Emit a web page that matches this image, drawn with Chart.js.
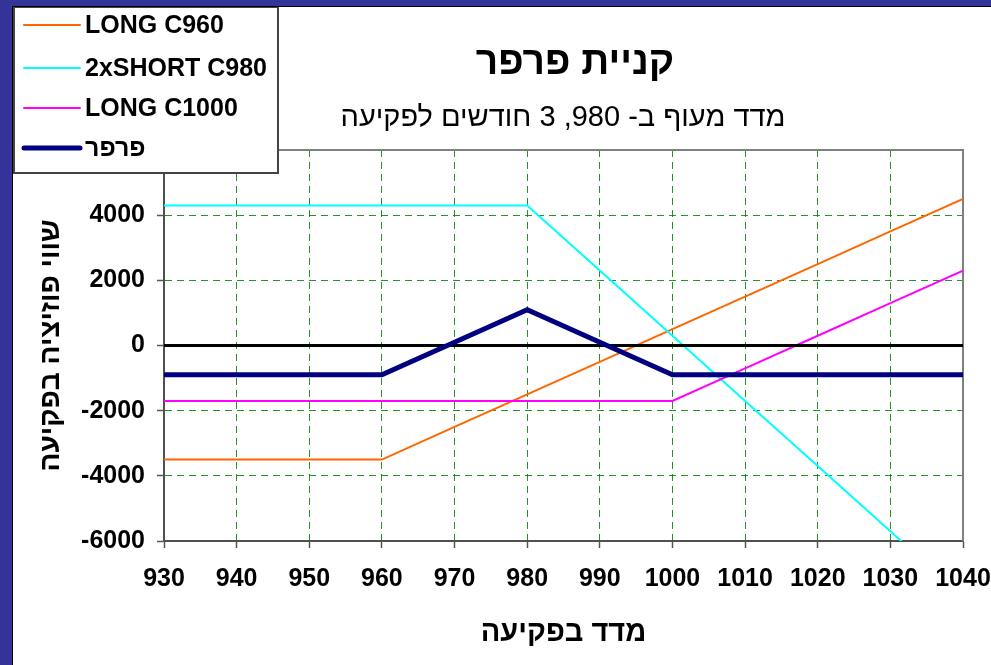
<!DOCTYPE html>
<html>
<head>
<meta charset="utf-8">
<title>קניית פרפר</title>
<script src="https://cdn.jsdelivr.net/npm/chart.js@4.4.1/dist/chart.umd.min.js"></script>
<style>
	html, body {
		margin: 0;
		padding: 0;
		width: 991px;
		height: 665px;
		overflow: hidden;
		background: #333399;
	}
	#panel {
		position: absolute;
		left: 12px;
		top: 6px;
		width: 978px;
		height: 658px;
		background: #fff;
		border-left: 1px solid #000;
		border-top: 1px solid #000;
	}
	#chart {
		display: block;
	}
</style>
</head>
<body>
<div id="panel"><canvas id="chart" width="978" height="658"></canvas></div>
<script>
// strike grid (index level at expiry)
var strikes = [930, 940, 950, 960, 970, 980, 990, 1000, 1010, 1020, 1030, 1040];

// position value at expiry for each leg
var longC960 = [-3500, -3500, -3500, -3500, -2500, -1500, -500, 500, 1500, 2500, 3500, 4500];
var shortC980x2 = [4300, 4300, 4300, 4300, 4300, 4300, 2300, 300, -1700, -3700, -5700, -7700];
var longC1000 = [-1700, -1700, -1700, -1700, -1700, -1700, -1700, -1700, -700, 300, 1300, 2300];
var butterfly = [-900, -900, -900, -900, 100, 1100, 100, -900, -900, -900, -900, -900];

// horizontal zero line
var zeroX = [930, 1040];
var zeroY = [0, 0];

var seriesLabels = ['LONG C960', '2xSHORT C980', 'LONG C1000', 'פרפר'];

var chartTitle = 'קניית פרפר';
var chartSubtitle = 'מדד מעוף ב- 980, 3 חודשים לפקיעה';
var xTitle = 'מדד בפקיעה';
var yTitle = 'שווי פוזיציה בפקיעה';

var FONT = '"Liberation Sans", Arial, "DejaVu Sans", sans-serif';

function toPoints(xs, ys) {
	return xs.map(function (x, i) {
		return { x: x, y: ys[i] };
	});
}

function plainNumber(value) {
	return String(value);
}

// title, subtitle and plot frame
var decorPlugin = {
	id: 'decor',
	beforeDatasetsDraw: function (chart) {
		var ctx = chart.ctx;
		var a = chart.chartArea;
		ctx.save();
		ctx.strokeStyle = '#808080';
		ctx.lineWidth = 2;
		ctx.beginPath();
		ctx.moveTo(a.left, a.top);
		ctx.lineTo(a.right, a.top);
		ctx.lineTo(a.right, a.bottom);
		ctx.stroke();
		ctx.restore();
	},
	afterDraw: function (chart) {
		var ctx = chart.ctx;
		ctx.save();
		ctx.fillStyle = '#000';
		ctx.textAlign = 'center';
		ctx.textBaseline = 'alphabetic';
		ctx.font = 'bold 39px ' + FONT;
		ctx.fillText(chartTitle, 562, 67);
		ctx.direction = 'rtl';
		ctx.textAlign = 'center';
		ctx.font = '29px ' + FONT;
		ctx.fillText(chartSubtitle, 550, 119);
		ctx.restore();
	}
};

// boxed legend in the top-left corner, over the plot
var boxLegendPlugin = {
	id: 'boxLegend',
	afterDraw: function (chart) {
		var ctx = chart.ctx;
		var rows = [18, 61, 101, 141];
		ctx.save();
		ctx.fillStyle = '#fff';
		ctx.fillRect(0, 0, 265, 166);
		ctx.strokeStyle = '#444';
		ctx.lineWidth = 2;
		ctx.strokeRect(1, 0, 264, 166);
		ctx.font = 'bold 25px ' + FONT;
		ctx.textAlign = 'left';
		ctx.textBaseline = 'middle';
		seriesLabels.forEach(function (label, i) {
			var ds = chart.data.datasets.find(function (d) { return d.label === label; });
			ctx.strokeStyle = ds.borderColor;
			ctx.lineWidth = ds.borderWidth;
			ctx.lineCap = 'round';
			ctx.beginPath();
			ctx.moveTo(11, rows[i]);
			ctx.lineTo(67, rows[i]);
			ctx.stroke();
			ctx.fillStyle = '#000';
			ctx.fillText(label, 72, rows[i] + 1);
		});
		ctx.restore();
	}
};

var ctx = document.getElementById('chart');

new Chart(ctx, {
	type: 'line',
	data: {
		datasets: [{
			label: seriesLabels[3],
			data: toPoints(strikes, butterfly),
			borderColor: '#000080',
			borderWidth: 5,
			order: 0
		}, {
			label: 'zero',
			data: toPoints(zeroX, zeroY),
			borderColor: '#000',
			borderWidth: 3,
			order: 1
		}, {
			label: seriesLabels[2],
			data: toPoints(strikes, longC1000),
			borderColor: '#ff00ff',
			borderWidth: 2,
			order: 2
		}, {
			label: seriesLabels[1],
			data: toPoints(strikes, shortC980x2),
			borderColor: '#00ffff',
			borderWidth: 2,
			order: 3
		}, {
			label: seriesLabels[0],
			data: toPoints(strikes, longC960),
			borderColor: '#ff6600',
			borderWidth: 2,
			order: 4
		}]
	},
	options: {
		responsive: false,
		animation: false,
		devicePixelRatio: 1,
		layout: {
			padding: { top: 143, right: 0, left: 0, bottom: 0 }
		},
		elements: {
			point: { radius: 0, hoverRadius: 0 },
			line: { tension: 0, fill: false }
		},
		plugins: {
			legend: { display: false },
			tooltip: { enabled: false },
			title: { display: false }
		},
		scales: {
			x: {
				type: 'linear',
				min: 930,
				max: 1040,
				afterFit: function (scale) {
					scale.height = 124;
					scale.paddingLeft = 0;
					scale.paddingRight = 28;
				},
				ticks: {
					stepSize: 10,
					color: '#000',
					padding: 16,
					maxRotation: 0,
					autoSkip: false,
					callback: plainNumber,
					font: { size: 25, weight: 'bold', family: FONT }
				},
				grid: {
					color: 'rgba(0, 128, 0, 0.85)',
					lineWidth: 1,
					tickLength: 7,
					tickColor: '#555',
					tickWidth: 1.5
				},
				border: {
					display: true,
					color: '#505050',
					width: 2,
					dash: [7, 5]
				},
				title: {
					display: true,
					text: xTitle,
					color: '#000',
					padding: { top: 0, bottom: 15 },
					font: { size: 29, weight: 'bold', family: FONT }
				}
			},
			y: {
				min: -6000,
				max: 6000,
				afterFit: function (scale) {
					scale.width = 151;
				},
				ticks: {
					stepSize: 2000,
					color: '#000',
					padding: 12,
					callback: plainNumber,
					font: { size: 25, weight: 'bold', family: FONT }
				},
				grid: {
					color: 'rgba(0, 128, 0, 0.85)',
					lineWidth: 1,
					tickLength: 7,
					tickColor: '#555',
					tickWidth: 1.5
				},
				border: {
					display: true,
					color: '#505050',
					width: 2,
					dash: [7, 5]
				},
				title: {
					display: true,
					text: yTitle,
					color: '#000',
					padding: { top: 21, bottom: 0 },
					font: { size: 28, weight: 'bold', family: FONT }
				}
			}
		}
	},
	plugins: [decorPlugin, boxLegendPlugin]
});
</script>
</body>
</html>
